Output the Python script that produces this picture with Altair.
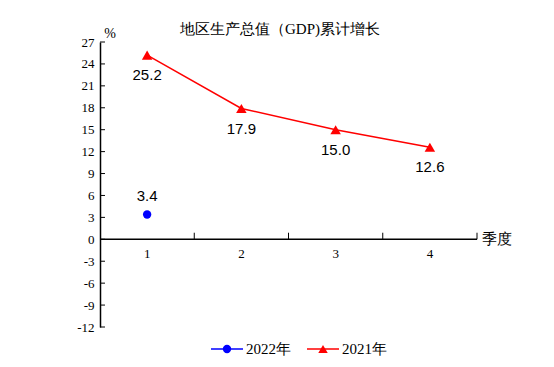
import altair as alt
import pandas as pd

quarters = [1, 2, 3, 4]
q_labels = ["1", "2", "3", "4"]
gdp_2021 = [25.2, 17.9, 15.0, 12.6]
gdp_2022 = [3.4]
series_names = ["2022年", "2021年"]
series_colors = ["#0000ff", "#ff0000"]
series_shapes = ["circle", "triangle-up"]
y_ticks = list(range(-12, 28, 3))
band_edges = [1.5, 2.5, 3.5, 4.5]
title_text = "地区生产总值（GDP)累计增长"

SERIF = "Liberation Serif"

df21 = pd.DataFrame({"q": quarters, "v": gdp_2021, "lab": [f"{v:.1f}" for v in gdp_2021]})
df22 = pd.DataFrame({"q": quarters[:len(gdp_2022)], "v": gdp_2022, "lab": [f"{v:.1f}" for v in gdp_2022]})
dfq = pd.DataFrame({"q": quarters, "lab": q_labels, "yl": [-2.0] * len(quarters)})
dfy = pd.DataFrame({"y": y_ticks, "x0": [0.5] * len(y_ticks), "x1": [0.553] * len(y_ticks)})
dfe = pd.DataFrame({"x": band_edges, "y0": [0.0] * len(band_edges), "y1": [0.9] * len(band_edges)})
dfx = pd.DataFrame({"x0": [0.5], "x1": [4.5], "y": [0.0], "t": ["季度"]})

xs = alt.Scale(domain=[0.5, 4.5], nice=False, zero=False)
ys = alt.Scale(domain=[-12, 27], nice=False, zero=False)
yax = alt.Axis(values=y_ticks, ticks=False, grid=False, title=None,
               domainColor="black", domainWidth=1.5,
               labelFont=SERIF, labelFontSize=13, labelColor="black",
               labelPadding=6, labelOverlap=False, labelFlush=False,
               labelExpr="datum.value + ''")


def Y(field):
    return alt.Y(field, scale=ys, axis=yax)


def X(field):
    return alt.X(field, scale=xs, axis=None)


y_axis = alt.Chart(dfy).mark_rule(stroke="black", strokeWidth=1).encode(
    x=X("x0:Q"), x2="x1:Q", y=Y("y:Q"))

x_line = alt.Chart(dfx).mark_rule(stroke="black", strokeWidth=1.5).encode(
    x=X("x0:Q"), x2="x1:Q", y=Y("y:Q"))
x_ticks = alt.Chart(dfe).mark_rule(stroke="black", strokeWidth=1).encode(
    x=X("x:Q"), y=Y("y0:Q"), y2="y1:Q")
x_labels = alt.Chart(dfq).mark_text(font=SERIF, fontSize=13, color="black", baseline="middle").encode(
    x=X("q:Q"), y=Y("yl:Q"), text="lab:N")
jidu = alt.Chart(dfx).mark_text(font=SERIF, fontSize=15, color="black", align="left", dx=5).encode(
    x=X("x1:Q"), y=Y("y:Q"), text="t:N")

line21 = alt.Chart(df21).mark_line(color=series_colors[1], strokeWidth=1.5).encode(
    x=X("q:Q"), y=Y("v:Q"))
pts21 = alt.Chart(df21).mark_point(shape=series_shapes[1], filled=True, color=series_colors[1], size=110, opacity=1).encode(
    x=X("q:Q"), y=Y("v:Q"))
txt21 = alt.Chart(df21).mark_text(font="Liberation Sans", fontSize=15, color="black", dy=20).encode(
    x=X("q:Q"), y=Y("v:Q"), text="lab:N")

pts22 = alt.Chart(df22).mark_point(shape=series_shapes[0], filled=True, color=series_colors[0], size=70, opacity=1).encode(
    x=X("q:Q"), y=Y("v:Q"))
txt22 = alt.Chart(df22).mark_text(font="Liberation Sans", fontSize=15, color="black", dy=-18).encode(
    x=X("q:Q"), y=Y("v:Q"), text="lab:N")

pct = alt.Chart(pd.DataFrame({"t": ["%"]})).mark_text(font=SERIF, fontSize=14, color="black").encode(
    x=alt.value(10), y=alt.value(-8), text="t:N")
title = alt.Chart(pd.DataFrame({"t": [title_text]})).mark_text(font=SERIF, fontSize=15, color="black").encode(
    x=alt.value(180), y=alt.value(-13), text="t:N")

legend_layers = []
leg_x0 = [111, 207]
for i, (nm, col, shp) in enumerate(zip(series_names, series_colors, series_shapes)):
    d = pd.DataFrame({"name": [nm]})
    x0 = leg_x0[i]
    legend_layers.append(alt.Chart(d).mark_rule(color=col, strokeWidth=1.5).encode(
        x=alt.value(x0), x2=alt.value(x0 + 32), y=alt.value(307)))
    legend_layers.append(alt.Chart(d).mark_point(shape=shp, filled=True, color=col, opacity=1,
                                                   size=70 if shp == "circle" else 90).encode(
        x=alt.value(x0 + 16), y=alt.value(307)))
    legend_layers.append(alt.Chart(d).mark_text(font=SERIF, fontSize=15, color="black", align="left").encode(
        x=alt.value(x0 + 35), y=alt.value(307), text="name:N"))

chart = alt.layer(
    y_axis, x_line, x_ticks, x_labels, jidu, line21, pts21, txt21, pts22, txt22, pct, title, *legend_layers
).properties(
    width=377, height=285,
    autosize=alt.AutoSizeParams(type="none"),
    padding={"left": 92, "top": 34, "right": 69, "bottom": 32},
).configure_view(stroke=None)

chart.save("out.html", embed_options={"renderer": "svg", "actions": False})
